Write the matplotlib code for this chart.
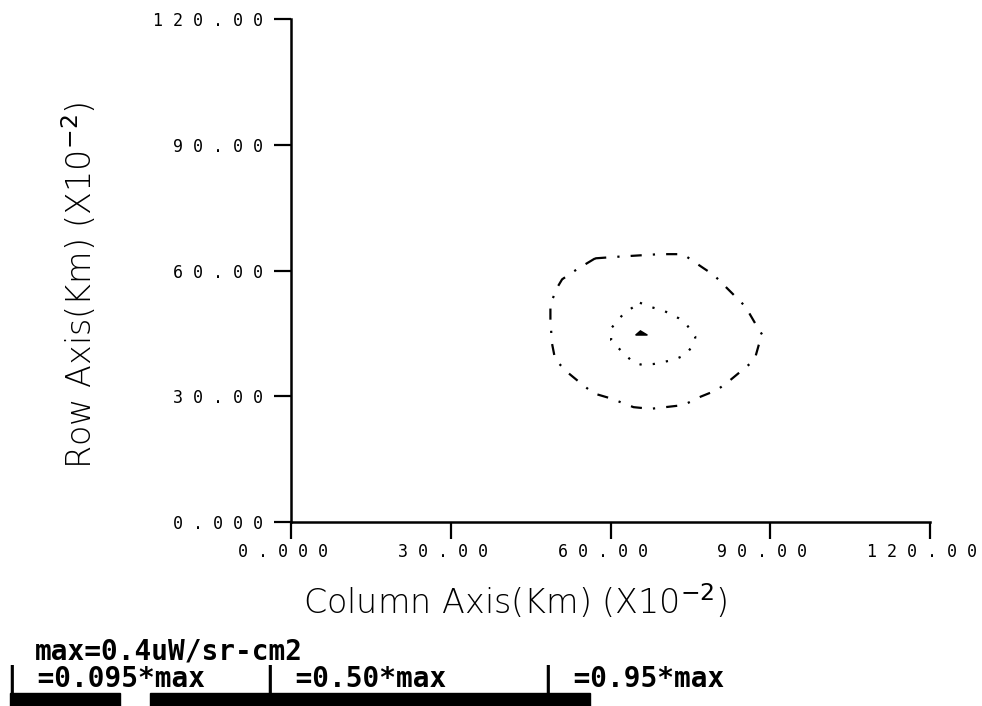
import matplotlib.pyplot as plt
import matplotlib.transforms as mtransforms
from matplotlib.patches import Polygon, Rectangle

# contour levels, data units x10^-2 km
outer_x = [57.1, 61.5, 69.2, 73.6, 75.3, 77.5, 79.4, 83.1, 85.3, 87.5, 88.5, 87.8, 87.2, 86.3,
           84.4, 82.5, 80.0, 76.9, 73.7, 67.5, 64.3, 60.0, 56.8, 54.3, 52.1, 49.6, 49.0, 48.7,
           48.7, 49.3, 50.1, 50.9, 53.7, 57.1]
outer_y = [62.9, 63.3, 63.9, 63.9, 62.4, 60.5, 58.9, 54.2, 51.4, 46.6, 44.6, 42.2, 39.5, 37.9,
           35.9, 33.9, 31.5, 29.9, 27.9, 27.0, 27.4, 29.5, 30.7, 33.2, 35.5, 38.7, 42.6, 48.2,
           52.2, 53.8, 56.2, 57.9, 60.3, 62.9]

inner_x = [65.5, 67.8, 70.0, 72.8, 74.1, 75.9, 75.8, 75.0, 74.1, 71.9, 68.1, 65.9, 64.3, 63.1,
           61.3, 60.1, 60.1, 60.9, 62.5, 65.5]
inner_y = [52.3, 51.2, 50.4, 48.6, 47.4, 44.2, 43.4, 41.4, 39.9, 38.7, 37.7, 37.5, 38.0, 39.5,
           41.7, 43.4, 46.2, 47.4, 49.8, 52.3]

peak_x = [64.7, 65.6, 66.9]
peak_y = [44.6, 45.6, 44.6]

ticks = [0, 30, 60, 90, 120]
x_ticklabels = ['0.000', '30.00', '60.00', '90.00', '120.00']
y_ticklabels = ['0.000', '30.00', '60.00', '90.00', '120.00']


def spaced(s):
    # old plotter font has very wide letter spacing
    return ' '.join(s)


fig = plt.figure(figsize=(9.82, 7.06), dpi=100)
ax = fig.add_axes([0.2963, 0.2606, 0.651, 0.7125])

ax.plot(outer_x, outer_y, color='black', lw=1.6, dashes=(5, 5, 1, 5))
ax.plot(inner_x, inner_y, color='black', lw=1.6, dashes=(1, 5))
ax.add_patch(Polygon(list(zip(peak_x, peak_y)), closed=True, color='black'))

ax.set_xlim(0, 120)
ax.set_ylim(0, 120)
ax.spines['top'].set_visible(False)
ax.spines['right'].set_visible(False)
for s in ('left', 'bottom'):
    ax.spines[s].set_linewidth(1.8)

tick_font = dict(family='DejaVu Sans Mono', size=12)
ax.set_xticks(ticks)
ax.set_xticklabels([spaced(t) for t in x_ticklabels], **tick_font)
ax.set_yticks(ticks)
ax.set_yticklabels([spaced(t) for t in y_ticklabels], **tick_font)
ax.tick_params(length=12, width=1.6, pad=8, colors='black')
ax.tick_params(axis='x', pad=3)
shift = mtransforms.ScaledTranslation(-0.08, 0, fig.dpi_scale_trans)
for lab in ax.get_xticklabels():
    lab.set_transform(lab.get_transform() + shift)

ax.set_xlabel('Column Axis(Km) (X10$^{-2}$)', fontsize=24, family='DejaVu Sans', fontweight='light')
ax.set_ylabel('Row Axis(Km) (X10$^{-2}$)', fontsize=24, family='DejaVu Sans', fontweight='light')
ax.xaxis.set_label_coords(0.35, -0.12)
ax.yaxis.set_label_coords(-0.30, 0.471)

bold = dict(family='DejaVu Sans Mono', fontweight='bold', fontsize=20)
fig.text(35 / 982, 1 - 651 / 706, 'max=0.4uW/sr-cm2', va='center', **bold)
fig.text(4 / 982, 1 - 680 / 706, '| =0.095*max', va='center', **bold)
fig.text(262 / 982, 1 - 680 / 706, '| =0.50*max', va='center', **bold)
fig.text(540 / 982, 1 - 680 / 706, '| =0.95*max', va='center', **bold)

# dark strip along the bottom of the scan
fig.patches.append(Rectangle((10 / 982, 0), 110 / 982, 13 / 706, transform=fig.transFigure,
                             color='black'))
fig.patches.append(Rectangle((150 / 982, 0), 440 / 982, 13 / 706, transform=fig.transFigure,
                             color='black'))

plt.savefig('out.png', dpi=100)
